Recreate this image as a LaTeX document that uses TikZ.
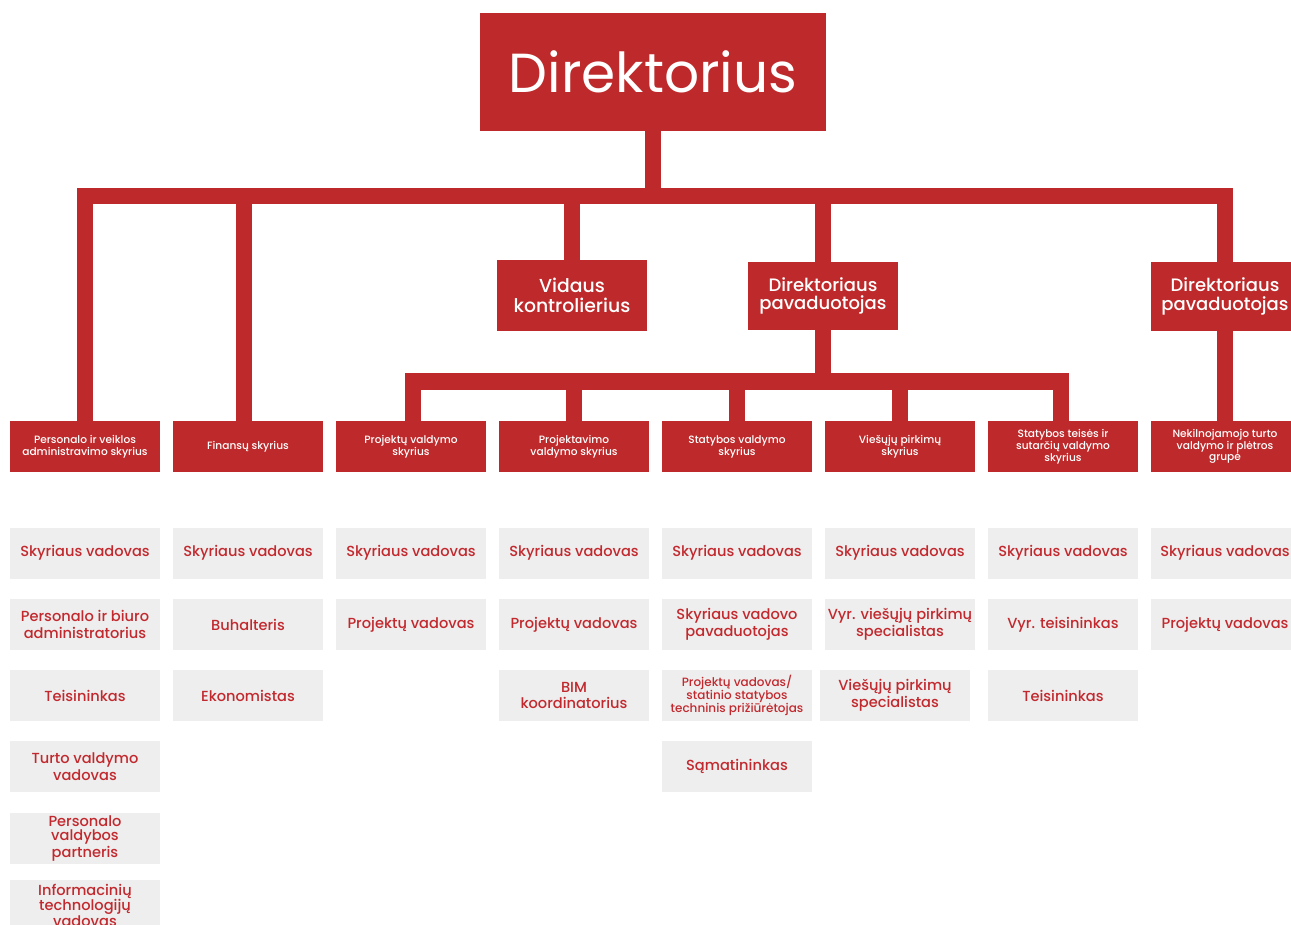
\documentclass[tikz,border=0pt]{standalone}
\usepackage{fontspec}
\setmainfont{Poppins}
\IfFontExistsTF{Poppins Medium}{\newfontfamily\medfont{Poppins Medium}}{\newfontfamily\medfont{Poppins}[FakeBold=1.2]}
\definecolor{cred}{HTML}{BE2A2B}
\definecolor{cgray}{HTML}{EEEEEE}
\definecolor{ctext}{HTML}{C2292E}
\newcommand{\rsh}{\hspace*{8pt}}
\begin{document}
\begin{tikzpicture}[x=1pt,y=-1pt,
  redbox/.style={fill=cred, text=white, inner sep=0pt, align=center},
  dept/.style={redbox, minimum width=150pt, minimum height=51pt, font=\medfont\fontsize{10.6}{12}\selectfont},
  role/.style={fill=cgray, text=ctext, inner sep=0pt, minimum width=150pt, minimum height=51pt, align=center, font=\medfont\fontsize{14.6}{16.8}\selectfont},
  conn/.style={draw=cred, line width=16pt, line join=miter, line cap=butt}]
\useasboundingbox (0,0) rectangle (1291,925);

% top level
\node[redbox, minimum width=346pt, minimum height=118pt, font=\fontsize{55}{60}\selectfont] (dir) at (653,72) {Direktorius};
\node[redbox, minimum width=150pt, minimum height=71pt, font=\medfont\fontsize{18.8}{19.5}\selectfont] (vid) at (572,295.5) {Vidaus\\kontrolierius};
\node[redbox, minimum width=150pt, minimum height=68pt, font=\medfont\fontsize{18}{18.5}\selectfont] (mdep) at (823,296) {Direktoriaus\\pavaduotojas};
\node[redbox, minimum width=140pt, minimum height=69pt, font=\medfont\fontsize{18}{18.5}\selectfont] (rdep) at (1221,296.5) {\rsh Direktoriaus\\\rsh pavaduotojas};

% departments
\node[dept] (pers) at (85,446.5) {Personalo ir veiklos\\administravimo skyrius};
\node[dept] (fin) at (248,446.5) {Finansų skyrius};
\node[dept] (pv) at (411,446.5) {Projektų valdymo\\skyrius};
\node[dept] (pjv) at (574,446.5) {Projektavimo\\valdymo skyrius};
\node[dept] (sv) at (737,446.5) {Statybos valdymo\\skyrius};
\node[dept] (vp) at (900,446.5) {Viešųjų pirkimų\\skyrius};
\node[dept, font=\medfont\fontsize{10.6}{10.6}\selectfont] (stv) at (1063,446.5) {Statybos teisės ir\\sutarčių valdymo\\skyrius};
\node[dept, minimum width=140pt, font=\medfont\fontsize{10.6}{10}\selectfont] (nek) at (1221,446.5) {\rsh Nekilnojamojo turto\\\rsh valdymo ir plėtros\\\rsh grupė};

% connectors
\coordinate (busy) at (0,196);
\coordinate (bus2) at (0,381.5);
\coordinate (rtop) at ([xshift=3.5pt]rdep.north);
\draw[conn] (pers.north) -- (pers.north |- busy) -- (rtop |- busy) -- (rtop);
\draw[conn] (dir.south) -- (dir.south |- busy);
\draw[conn] ([xshift=-4pt]fin.north) -- ([xshift=-4pt]fin.north |- busy);
\draw[conn] (vid.north) -- (vid.north |- busy);
\draw[conn] (mdep.north) -- (mdep.north |- busy);
\draw[conn] (mdep.south) -- (mdep.south |- bus2);
\draw[conn] ([xshift=1.5pt]pv.north) -- ([xshift=1.5pt]pv.north |- bus2) -- ([xshift=-2pt]stv.north |- bus2) -- ([xshift=-2pt]stv.north);
\draw[conn] (pjv.north) -- (pjv.north |- bus2);
\draw[conn] (sv.north) -- (sv.north |- bus2);
\draw[conn] (vp.north) -- (vp.north |- bus2);
\draw[conn] ([xshift=3.5pt]rdep.south) -- ([xshift=3.5pt]rdep.south |- nek.north);

% roles column 1
\node[role] (a1) at (85,553) {Skyriaus vadovas};
\node[role] (a2) at (85,624.5) {Personalo ir biuro\\administratorius};
\node[role] (a3) at (85,695.5) {Teisininkas};
\node[role] (a4) at (85,766.5) {Turto valdymo\\vadovas};
\node[role, font=\medfont\fontsize{14.6}{14}\selectfont] (a5) at (85,838.5) {Personalo\\valdybos\\partneris};
\node[role, font=\medfont\fontsize{14.6}{13.5}\selectfont] (a6) at (85,905.5) {Informacinių\\technologijų\\vadovas};
% column 2
\node[role] (b1) at (248,553) {Skyriaus vadovas};
\node[role] (b2) at (248,624.5) {\raisebox{-2pt}{Buhalteris}};
\node[role] (b3) at (248,695.5) {Ekonomistas};
% column 3
\node[role] (c1) at (411,553) {Skyriaus vadovas};
\node[role] (c2) at (411,624.5) {Projektų vadovas};
% column 4
\node[role] (d1) at (574,553) {Skyriaus vadovas};
\node[role] (d2) at (574,624.5) {Projektų vadovas};
\node[role] (d3) at (574,695.5) {BIM\\koordinatorius};
% column 5
\node[role] (e1) at (737,553) {Skyriaus vadovas};
\node[role] (e2) at (737,624.5) {Skyriaus vadovo\\pavaduotojas};
\node[role, font=\medfont\fontsize{12}{12.2}\selectfont] (e3) at (737,695.5) {Projektų vadovas/\\statinio statybos\\techninis prižiūrėtojas};
\node[role] (e4) at (737,766.5) {Sąmatininkas};
% column 6
\node[role] (f1) at (900,553) {Skyriaus vadovas};
\node[role] (f2) at (900,624.5) {Vyr. viešųjų pirkimų\\specialistas};
\node[role] (f3) at (895,695.5) {Viešųjų pirkimų\\specialistas};
% column 7
\node[role] (g1) at (1063,553) {Skyriaus vadovas};
\node[role] (g2) at (1063,624.5) {Vyr. teisininkas};
\node[role] (g3) at (1063,695.5) {Teisininkas};
% column 8
\node[role, minimum width=140pt] (h1) at (1221,553) {\rsh Skyriaus vadovas};
\node[role, minimum width=140pt] (h2) at (1221,624.5) {\rsh Projektų vadovas};
\end{tikzpicture}
\end{document}
